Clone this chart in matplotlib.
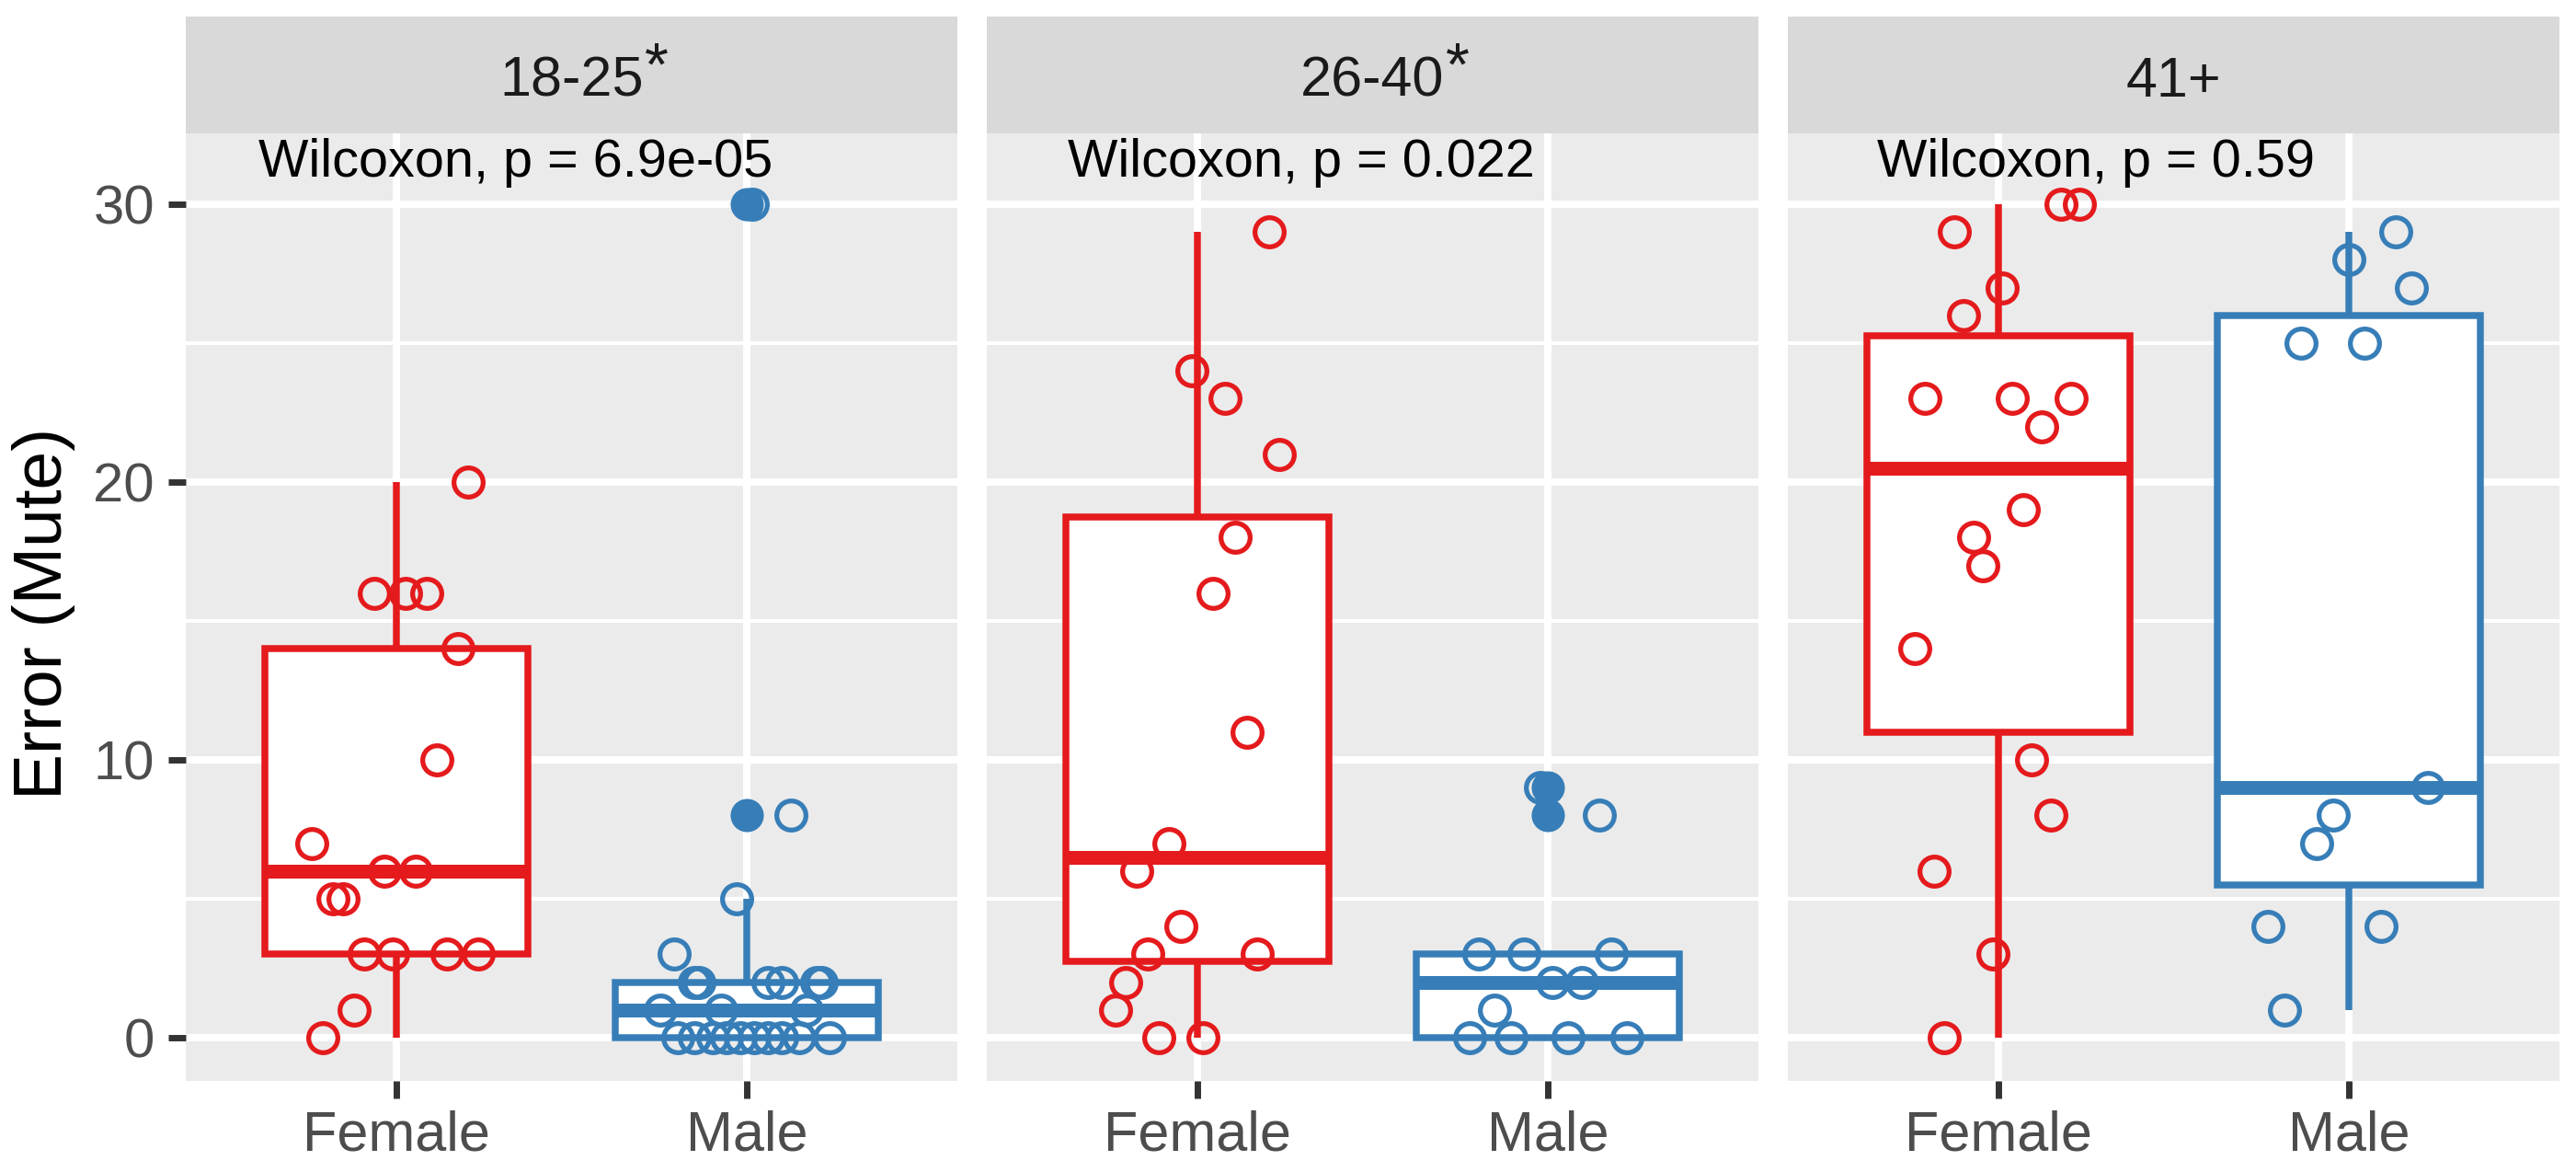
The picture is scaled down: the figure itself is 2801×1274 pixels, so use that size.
import numpy as np
import matplotlib.pyplot as plt

plt.rcParams['font.family'] = ['Liberation Sans', 'DejaVu Sans']

# data
age_groups = ['18-25', '26-40', '41+']
starred = [True, True, False]
p_labels = ['Wilcoxon, p = 6.9e-05', 'Wilcoxon, p = 0.022', 'Wilcoxon, p = 0.59']
sexes = ['Female', 'Male']

female_1825 = [20, 16, 16, 16, 14, 10, 7, 6, 6, 5, 5, 3, 3, 3, 3, 1, 0]
female_1825_jit = [0.204, -0.062, 0.027, 0.086, 0.175, 0.115, -0.240, -0.033, 0.056,
                   -0.180, -0.151, -0.092, -0.010, 0.145, 0.234, -0.121, -0.210]
male_1825 = [30, 8, 5, 3, 2, 2, 2, 2, 2, 2, 1, 1, 1, 0, 0, 0, 0, 0, 0, 0, 0, 0, 0]
male_1825_jit = [0.015, 0.126, -0.030, -0.208, -0.149, -0.136, 0.060, 0.100, 0.200, 0.213,
                 -0.246, -0.075, 0.170, -0.198, -0.149, -0.097, -0.058, -0.018, 0.021,
                 0.060, 0.100, 0.148, 0.235]

female_2640 = [29, 24, 23, 21, 18, 16, 11, 7, 6, 4, 3, 3, 2, 1, 0, 0]
female_2640_jit = [0.204, -0.015, 0.078, 0.234, 0.108, 0.046, 0.141, -0.080, -0.173,
                   -0.047, -0.141, 0.172, -0.203, -0.232, -0.109, 0.015]
male_2640 = [9, 8, 3, 3, 3, 2, 2, 1, 0, 0, 0, 0]
male_2640_jit = [-0.021, 0.147, -0.197, -0.068, 0.181, 0.013, 0.097, -0.152,
                 -0.223, -0.106, 0.058, 0.226]

female_41 = [30, 30, 29, 27, 26, 23, 23, 23, 22, 19, 18, 17, 14, 10, 8, 6, 3, 0]
female_41_jit = [0.178, 0.232, -0.126, 0.012, -0.099, -0.210, 0.040, 0.207, 0.123,
                 0.070, -0.071, -0.044, -0.237, 0.096, 0.151, -0.182, -0.015, -0.154]
male_41 = [29, 28, 27, 25, 25, 9, 8, 7, 4, 4, 1]
male_41_jit = [0.132, -0.001, 0.179, -0.138, 0.043, 0.225, -0.046, -0.093,
               -0.231, 0.090, -0.183]

panels = [
    [(female_1825, female_1825_jit), (male_1825, male_1825_jit)],
    [(female_2640, female_2640_jit), (male_2640, male_2640_jit)],
    [(female_41, female_41_jit), (male_41, male_41_jit)],
]
colors = ['#E41A1C', '#377EB8']
label_x = [0.607, 0.631, 0.654]

W, H = 2801, 1274
fig = plt.figure(figsize=(W / 100, H / 100), dpi=100)

def rect(l, t, r, b):
    return [l / W, 1 - b / H, (r - l) / W, (b - t) / H]

lefts = [202, 1073, 1944]
pw = 839
for k in range(3):
    l = lefts[k]
    ax = fig.add_axes(rect(l, 145, l + pw, 1175))
    ax.set_facecolor('#EBEBEB')
    for s in ax.spines.values():
        s.set_visible(False)

    for i, (vals, jit) in enumerate(panels[k]):
        c = colors[i]
        ax.boxplot([vals], positions=[i + 1], widths=0.75, patch_artist=True,
                   showcaps=False, whis=1.5,
                   boxprops=dict(facecolor='white', edgecolor=c, linewidth=5.4,
                                 joinstyle='miter'),
                   whiskerprops=dict(color=c, linewidth=5.4, solid_capstyle='butt'),
                   medianprops=dict(color=c, linewidth=10.8, solid_capstyle='butt'),
                   flierprops=dict(marker='o', markerfacecolor=c, markeredgecolor=c,
                                   markersize=26, markeredgewidth=0))
        xs = i + 1 + np.array(jit)
        ax.plot(xs, vals, linestyle='none', marker='o', markersize=22.8,
                markerfacecolor='none', markeredgecolor=c, markeredgewidth=3.8,
                zorder=5)

    ax.set_xlim(0.4, 2.6)
    ax.set_ylim(-1.56, 32.55)
    ax.set_yticks([0, 10, 20, 30])
    ax.set_yticks([5, 15, 25], minor=True)
    ax.set_xticks([1, 2])
    ax.set_xticklabels(sexes)
    ax.grid(which='major', color='white', linewidth=5.8)
    ax.grid(which='minor', axis='y', color='white', linewidth=2.9)
    ax.set_axisbelow(True)
    ax.tick_params(axis='x', length=13.5, width=5, color='#333333', pad=9,
                   labelsize=44, labelcolor='#4D4D4D')
    ax.tick_params(axis='y', which='minor', length=0)
    if k == 0:
        ax.tick_params(axis='y', length=13.5, width=5, color='#333333', pad=11,
                       labelsize=43, labelcolor='#4D4D4D')
    else:
        ax.tick_params(axis='y', length=0, labelleft=False)

    ax.text(label_x[k], 31.0, p_labels[k], ha='left', va='baseline', fontsize=41.5,
            color='black')

    # facet strip
    sx = fig.add_axes(rect(l, 18, l + pw, 145))
    sx.set_facecolor('#D9D9D9')
    sx.set_xticks([])
    sx.set_yticks([])
    for s in sx.spines.values():
        s.set_visible(False)
    t = sx.text(0.5, 0.315, age_groups[k], ha='center', va='baseline', fontsize=44,
                color='#1A1A1A')
    if starred[k]:
        sx.annotate('*', xy=(1, 0.41), xycoords=(t, 'axes fraction'),
                    xytext=(1, 0), textcoords='offset points',
                    ha='left', va='baseline', fontsize=48, color='#1A1A1A')

fig.text(48 / W, 1 - 667 / H, 'Error (Mute)', rotation=90, ha='center', va='center',
         fontsize=54, color='black')

fig.savefig('out.png', dpi=100, facecolor='white')
